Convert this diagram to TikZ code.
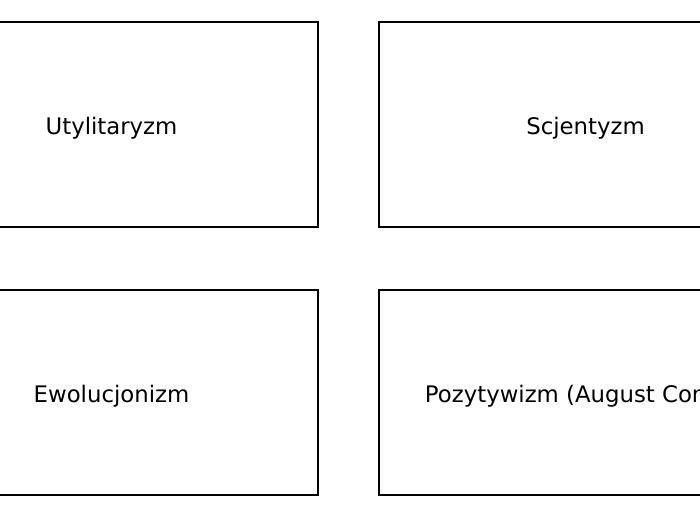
\documentclass[tikz,border=0pt]{standalone}
\usepackage{fontspec}
\setmainfont{DejaVu Sans}
\begin{document}
\begin{tikzpicture}[x=1pt, y=1pt]
            \tikzset{topic/.style={draw, line width=2pt, minimum width=413pt, minimum height=205pt, text height=19.6pt, text depth=0pt, font=\fontsize{22.8}{27}\selectfont}}
            \clip (0,0) rectangle (700,520);
            \node[topic] (util) at (111.5,395.5) {Utylitaryzm};
            \node[topic] (scient) at (585.5,395.5) {Scjentyzm};
            \node[topic] (ewol) at (111.5,127.5) {Ewolucjonizm};
            \node[topic] (pozyt) at (585.5,127.5) {Pozytywizm (August Comte)};
        \end{tikzpicture}
\end{document}
